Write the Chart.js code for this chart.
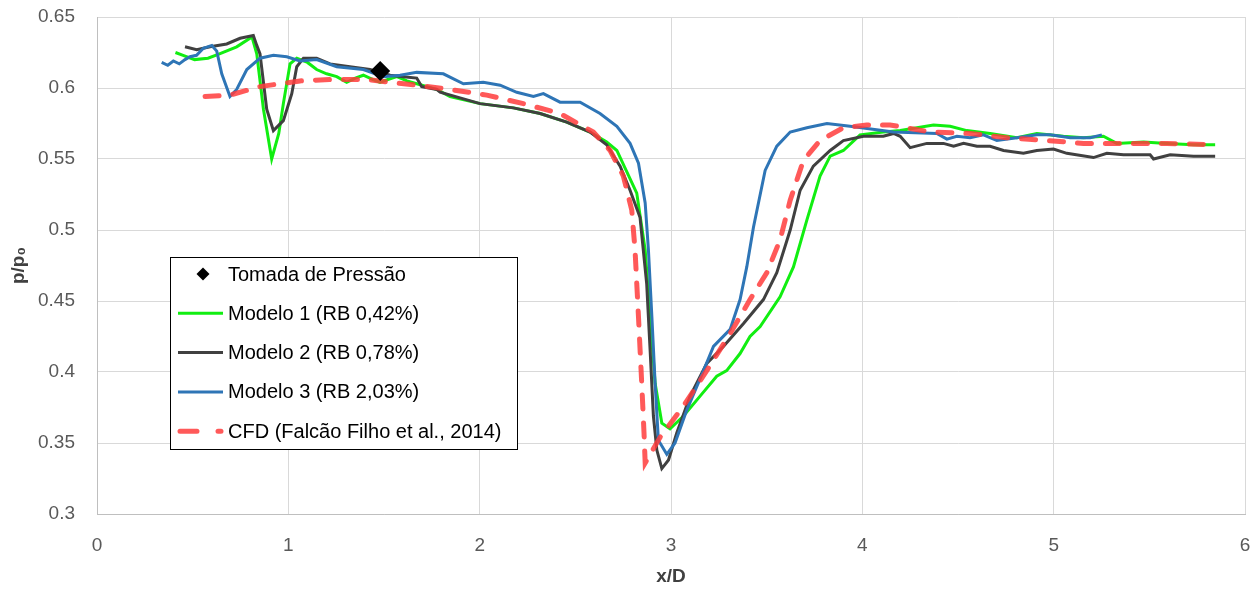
<!DOCTYPE html>
<html>
<head>
<meta charset="utf-8">
<script src="https://cdn.jsdelivr.net/npm/chart.js@4.4.1/dist/chart.umd.min.js"></script>
<style>
  html, body { margin: 0; padding: 0; background: #fff; }
</style>
</head>
<body>
<canvas id="chart" width="1259" height="590"></canvas>
<script>
// pressure tap
const tapX = [1.48]
const tapY = [0.612]

// Modelo 1 (RB 0,42%)
const m1X = [0.41, 0.45, 0.51, 0.58, 0.64, 0.73, 0.81, 0.835, 0.87, 0.913, 0.95, 0.974, 1.009, 1.044, 1.10, 1.148, 1.20, 1.253, 1.305, 1.35, 1.392, 1.44, 1.479, 1.52, 1.567, 1.62, 1.671, 1.776, 1.845, 2.002, 2.176, 2.316, 2.455, 2.577, 2.664, 2.717, 2.821, 2.865, 2.891, 2.917, 2.952, 2.995, 3.065, 3.152, 3.239, 3.291, 3.361, 3.413, 3.466, 3.570, 3.640, 3.710, 3.779, 3.832, 3.901, 3.988, 4.110, 4.198, 4.372, 4.459, 4.546, 4.668, 4.808, 4.912, 5.051, 5.156, 5.260, 5.330, 5.470, 5.592, 5.731, 5.844]
const m1Y = [0.625, 0.623, 0.620, 0.621, 0.624, 0.629, 0.636, 0.624, 0.585, 0.550, 0.568, 0.589, 0.617, 0.621, 0.618, 0.613, 0.610, 0.608, 0.604, 0.607, 0.609, 0.606, 0.604, 0.606, 0.608, 0.605, 0.603, 0.599, 0.594, 0.589, 0.586, 0.582, 0.576, 0.569, 0.562, 0.556, 0.526, 0.486, 0.439, 0.392, 0.364, 0.360, 0.369, 0.383, 0.397, 0.401, 0.413, 0.425, 0.432, 0.453, 0.474, 0.507, 0.538, 0.552, 0.556, 0.567, 0.569, 0.570, 0.574, 0.573, 0.570, 0.568, 0.565, 0.568, 0.566, 0.565, 0.566, 0.561, 0.562, 0.561, 0.560, 0.560]

// Modelo 2 (RB 0,78%)
const m2X = [0.46, 0.521, 0.591, 0.678, 0.748, 0.817, 0.835, 0.852, 0.887, 0.922, 0.974, 1.018, 1.044, 1.079, 1.148, 1.218, 1.322, 1.427, 1.532, 1.60, 1.671, 1.697, 1.776, 1.793, 2.002, 2.176, 2.316, 2.455, 2.577, 2.664, 2.734, 2.786, 2.838, 2.873, 2.891, 2.908, 2.926, 2.952, 2.987, 3.030, 3.100, 3.187, 3.274, 3.378, 3.483, 3.553, 3.623, 3.675, 3.744, 3.832, 3.901, 4.006, 4.110, 4.163, 4.198, 4.250, 4.337, 4.424, 4.477, 4.529, 4.599, 4.668, 4.738, 4.842, 4.912, 4.999, 5.069, 5.208, 5.278, 5.365, 5.504, 5.522, 5.609, 5.731, 5.844]
const m2Y = [0.629, 0.627, 0.629, 0.631, 0.635, 0.637, 0.630, 0.624, 0.585, 0.570, 0.577, 0.596, 0.615, 0.621, 0.621, 0.617, 0.615, 0.613, 0.609, 0.608, 0.607, 0.601, 0.599, 0.597, 0.589, 0.586, 0.582, 0.576, 0.569, 0.560, 0.545, 0.528, 0.509, 0.462, 0.415, 0.369, 0.345, 0.332, 0.338, 0.357, 0.383, 0.406, 0.418, 0.434, 0.451, 0.470, 0.500, 0.528, 0.545, 0.556, 0.563, 0.566, 0.566, 0.568, 0.566, 0.558, 0.561, 0.561, 0.559, 0.561, 0.559, 0.559, 0.556, 0.554, 0.556, 0.557, 0.554, 0.551, 0.554, 0.553, 0.553, 0.550, 0.553, 0.552, 0.552]

// Modelo 3 (RB 2,03%)
const m3X = [0.338, 0.37, 0.399, 0.43, 0.46, 0.486, 0.52, 0.556, 0.600, 0.626, 0.652, 0.695, 0.730, 0.783, 0.852, 0.922, 0.992, 1.061, 1.148, 1.253, 1.392, 1.497, 1.584, 1.671, 1.810, 1.915, 2.019, 2.107, 2.194, 2.281, 2.333, 2.420, 2.525, 2.629, 2.717, 2.786, 2.830, 2.865, 2.882, 2.900, 2.917, 2.934, 2.978, 3.021, 3.082, 3.170, 3.222, 3.309, 3.361, 3.396, 3.431, 3.492, 3.553, 3.623, 3.710, 3.815, 3.936, 4.163, 4.389, 4.442, 4.494, 4.563, 4.633, 4.703, 4.808, 4.912, 4.982, 5.086, 5.191, 5.252]
const m3Y = [0.618, 0.616, 0.619, 0.617, 0.620, 0.622, 0.623, 0.628, 0.630, 0.626, 0.610, 0.594, 0.599, 0.613, 0.621, 0.623, 0.622, 0.619, 0.620, 0.615, 0.613, 0.608, 0.609, 0.611, 0.610, 0.603, 0.604, 0.602, 0.597, 0.594, 0.596, 0.590, 0.590, 0.582, 0.573, 0.561, 0.547, 0.519, 0.486, 0.439, 0.392, 0.352, 0.342, 0.350, 0.373, 0.401, 0.418, 0.430, 0.451, 0.474, 0.502, 0.542, 0.559, 0.569, 0.572, 0.575, 0.573, 0.569, 0.568, 0.564, 0.566, 0.565, 0.567, 0.563, 0.565, 0.567, 0.567, 0.565, 0.565, 0.567]

// CFD (Falcão Filho et al., 2014)
const cfdX = [0.565, 0.695, 0.852, 1.061, 1.218, 1.410, 1.532, 1.671, 1.845, 2.037, 2.229, 2.420, 2.594, 2.682, 2.751, 2.795, 2.812, 2.830, 2.847, 2.859, 2.865, 2.943, 3.065, 3.187, 3.309, 3.413, 3.501, 3.570, 3.623, 3.692, 3.779, 3.901, 4.023, 4.145, 4.355, 4.563, 4.755, 4.964, 5.156, 5.382, 5.592, 5.844]
const cfdY = [0.594, 0.595, 0.601, 0.605, 0.606, 0.606, 0.604, 0.602, 0.599, 0.595, 0.589, 0.582, 0.569, 0.556, 0.538, 0.514, 0.486, 0.439, 0.392, 0.357, 0.336, 0.354, 0.376, 0.401, 0.427, 0.451, 0.470, 0.493, 0.521, 0.549, 0.563, 0.572, 0.574, 0.574, 0.569, 0.568, 0.565, 0.563, 0.561, 0.561, 0.561, 0.560]

const FONT = 'Liberation Sans'

function points (xs, ys) {
  return xs.map((x, i) => ({ x: x, y: ys[i] }))
}

function lineSet (label, xs, ys, color, order, extra) {
  return Object.assign({
    label: label,
    data: points(xs, ys),
    showLine: true,
    borderColor: color,
    backgroundColor: color,
    borderWidth: 3,
    pointRadius: 0,
    tension: 0,
    order: order
  }, extra || {})
}

// legend drawn inside the plot, like the original box
const boxLegend = {
  id: 'boxLegend',
  afterDraw (chart) {
    const ctx = chart.ctx
    const left = 170
    const top = 257
    ctx.save()
    ctx.fillStyle = '#fff'
    ctx.fillRect(left, top, 347, 192)
    ctx.strokeStyle = '#000'
    ctx.lineWidth = 1
    ctx.strokeRect(left + 0.5, top + 0.5, 347, 192)
    ctx.font = '20px "' + FONT + '"'
    ctx.textBaseline = 'middle'
    chart.data.datasets.forEach((ds, i) => {
      const y = 274 + i * 39.3
      if (ds.pointStyle === 'rectRot') {
        ctx.fillStyle = '#000'
        ctx.beginPath()
        ctx.moveTo(203, y - 6.5)
        ctx.lineTo(209.5, y)
        ctx.lineTo(203, y + 6.5)
        ctx.lineTo(196.5, y)
        ctx.closePath()
        ctx.fill()
      } else {
        ctx.strokeStyle = ds.borderColor
        ctx.lineWidth = ds.borderWidth
        ctx.lineCap = ds.borderDash ? 'round' : 'butt'
        ctx.beginPath()
        if (ds.borderDash) {
          ctx.moveTo(180, y)
          ctx.lineTo(197, y)
          ctx.moveTo(218, y)
          ctx.lineTo(221, y)
        } else {
          ctx.moveTo(178, y)
          ctx.lineTo(223, y)
        }
        ctx.stroke()
      }
      ctx.fillStyle = '#000'
      ctx.fillText(ds.label, 228, y + 1)
    })
    ctx.restore()
  }
}

new Chart(document.getElementById('chart'), {
  type: 'scatter',
  data: {
    datasets: [
      {
        label: 'Tomada de Pressão',
        data: points(tapX, tapY),
        pointStyle: 'rectRot',
        pointRadius: 10,
        backgroundColor: '#000',
        borderColor: '#000',
        borderWidth: 0,
        showLine: false,
        order: 0
      },
      lineSet('Modelo 1 (RB 0,42%)', m1X, m1Y, '#11ee11', 4),
      lineSet('Modelo 2 (RB 0,78%)', m2X, m2Y, '#404040', 3),
      lineSet('Modelo 3 (RB 2,03%)', m3X, m3Y, '#2e75b6', 2),
      lineSet('CFD (Falcão Filho et al., 2014)', cfdX, cfdY, 'rgba(255, 60, 60, 0.85)', 1,
        { borderWidth: 5, borderDash: [14, 14], borderCapStyle: 'round' })
    ]
  },
  options: {
    responsive: false,
    animation: false,
    devicePixelRatio: 1,
    layout: { padding: { top: 17, right: 14, left: 0, bottom: 0 } },
    plugins: {
      legend: { display: false },
      tooltip: { enabled: false }
    },
    scales: {
      x: {
        type: 'linear',
        min: 0,
        max: 6,
        afterFit: (scale) => {
          scale.height = 76
          scale.paddingLeft = 0
          scale.paddingRight = 0
        },
        ticks: {
          stepSize: 1,
          padding: 20,
          color: '#595959',
          font: { family: FONT, size: 19 }
        },
        grid: { color: '#d9d9d9', drawTicks: false },
        border: { color: '#bfbfbf' },
        title: {
          display: true,
          text: 'x/D',
          color: '#404040',
          padding: { top: 0, bottom: 2 },
          font: { family: FONT, size: 19, weight: 'bold' }
        }
      },
      y: {
        type: 'linear',
        min: 0.3,
        max: 0.65,
        afterFit: (scale) => {
          scale.width = 97
          scale.paddingTop = 0
          scale.paddingBottom = 0
        },
        ticks: {
          stepSize: 0.05,
          padding: 22,
          color: '#595959',
          font: { family: FONT, size: 19 },
          callback: (v) => String(parseFloat(v.toFixed(2)))
        },
        grid: { color: '#d9d9d9', drawTicks: false },
        border: { color: '#bfbfbf' },
        title: {
          display: true,
          text: 'p/p₀',
          color: '#404040',
          padding: { top: 7, bottom: 0 },
          font: { family: FONT, size: 19, weight: 'bold' }
        }
      }
    }
  },
  plugins: [boxLegend]
})
</script>
</body>
</html>
